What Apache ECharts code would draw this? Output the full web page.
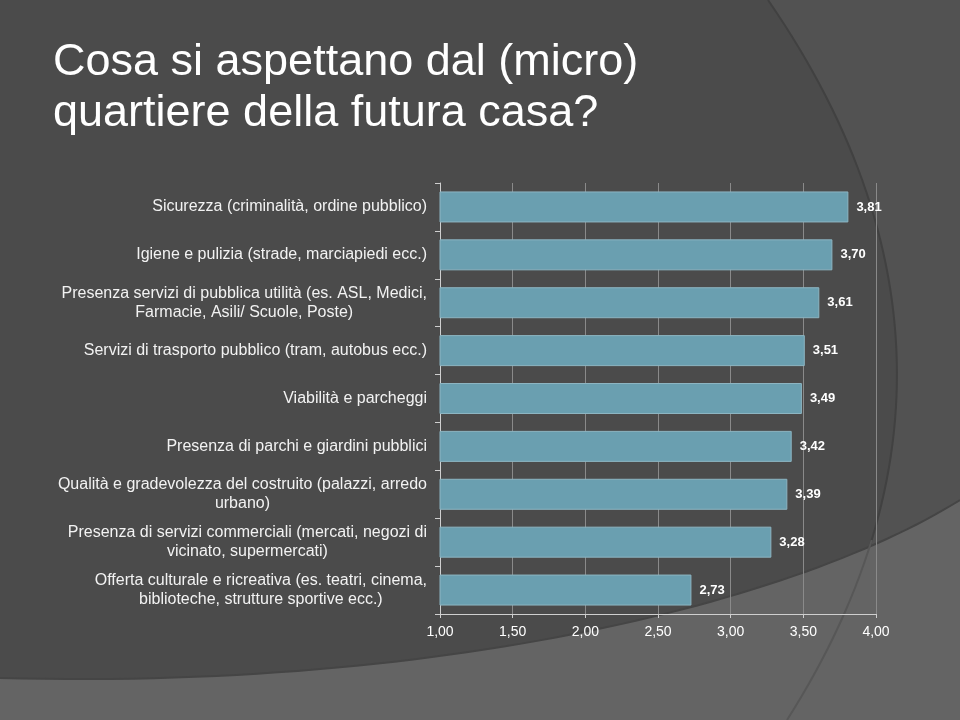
<!DOCTYPE html>
<html>
<head>
<meta charset="utf-8">
<script src="https://cdn.jsdelivr.net/npm/echarts@6/dist/echarts.min.js"></script>
<style>
html,body{margin:0;padding:0;background:#4b4b4b;}
#c{width:960px;height:720px;}
</style>
</head>
<body>
<div id="c"></div>
<script>
const titleText = 'Cosa si aspettano dal (micro)\nquartiere della futura casa?';
const categories = [
  'Sicurezza (criminalità, ordine pubblico)',
  'Igiene e pulizia (strade, marciapiedi ecc.)',
  'Presenza servizi di pubblica utilità (es. ASL, Medici,\nFarmacie, Asili/ Scuole, Poste)',
  'Servizi di trasporto pubblico (tram, autobus ecc.)',
  'Viabilità e parcheggi',
  'Presenza di parchi e giardini pubblici',
  'Qualità e gradevolezza del costruito (palazzi, arredo\nurbano)',
  'Presenza di servizi commerciali (mercati, negozi di\nvicinato, supermercati)',
  'Offerta culturale e ricreativa (es. teatri, cinema,\nbiblioteche, strutture sportive ecc.)'
];
const values = [3.81, 3.70, 3.61, 3.51, 3.49, 3.42, 3.39, 3.28, 2.73];
const xMin = 1, xMax = 4, xStep = 0.5;

// decorative background curves
function quad(p0, p1, p2, n) {
  const pts = [];
  for (let i = 0; i <= n; i++) {
    const t = i / n, a = (1 - t) * (1 - t), b = 2 * (1 - t) * t, c = t * t;
    pts.push([a * p0[0] + b * p1[0] + c * p2[0], a * p0[1] + b * p1[1] + c * p2[1]]);
  }
  return pts;
}
function cubic(p0, p1, p2, p3, n) {
  const pts = [];
  for (let i = 0; i <= n; i++) {
    const t = i / n, u = 1 - t;
    const a = u * u * u, b = 3 * u * u * t, c = 3 * u * t * t, d = t * t * t;
    pts.push([a * p0[0] + b * p1[0] + c * p2[0] + d * p3[0], a * p0[1] + b * p1[1] + c * p2[1] + d * p3[1]]);
  }
  return pts;
}
const lensCurve = quad([768, 0], [1016, 360], [787, 720], 60);
const bottomCurve = cubic([0, 678], [450, 690], [800, 600], [960, 500], 60);

const chart = echarts.init(document.getElementById('c'));
const fmt = v => v.toFixed(2).replace('.', ',');
const FF = '"Liberation Sans", Arial, sans-serif';

chart.setOption({
  backgroundColor: '#4b4b4b',
  animation: false,
  graphic: [
    { type: 'polygon', z: -10, silent: true,
      shape: { points: lensCurve.concat([[960, 720], [960, 0]]) },
      style: { fill: '#525252' } },
    { type: 'polyline', z: -10, silent: true,
      shape: { points: lensCurve },
      style: { fill: null, stroke: '#414141', lineWidth: 2 } },
    { type: 'polygon', z: -9, silent: true,
      shape: { points: bottomCurve.concat([[960, 720], [0, 720]]) },
      style: { fill: '#646464' } },
    { type: 'polyline', z: -9, silent: true,
      shape: { points: bottomCurve },
      style: { fill: null, stroke: '#454545', lineWidth: 2 } },
    { type: 'polyline', z: -8, silent: true,
      shape: { points: lensCurve.slice(45) },
      style: { fill: null, stroke: '#575757', lineWidth: 2 } },
    { type: 'text', left: 53, top: 37, z: 10,
      style: { text: titleText, fill: '#ffffff', font: '45px ' + FF, lineHeight: 51 } }
  ],
  grid: { left: 440, right: 84, top: 183, bottom: 106, containLabel: false },
  xAxis: {
    type: 'value', min: xMin, max: xMax, interval: xStep,
    axisLine: { show: true, lineStyle: { color: '#cfcfcf', width: 1 } },
    axisTick: { show: true, length: 4, lineStyle: { color: '#cfcfcf' } },
    splitLine: { show: true, lineStyle: { color: '#8a8a8a', width: 1 } },
    axisLabel: { color: '#ffffff', fontSize: 14, margin: 11, fontFamily: FF, formatter: v => fmt(v) }
  },
  yAxis: {
    type: 'category', inverse: true, data: categories,
    axisLine: { show: true, lineStyle: { color: '#cfcfcf', width: 1 } },
    axisTick: { show: true, length: 5, alignWithLabel: false, lineStyle: { color: '#cfcfcf' } },
    axisLabel: {
      color: '#f2f2f2', fontSize: 16, margin: 13, lineHeight: 19, fontFamily: FF,
      formatter: v => v.split('\n').map(s => '{c|' + s + '}').join('\n'),
      rich: { c: { align: 'center', color: '#f2f2f2', fontSize: 16, lineHeight: 19, fontFamily: FF } }
    }
  },
  series: [{
    type: 'bar', data: values, barWidth: 31,
    itemStyle: { color: '#6a9fb0', borderColor: '#8db5c2', borderWidth: 1 },
    label: { show: true, position: 'right', distance: 8, color: '#ffffff', fontWeight: 'bold', fontSize: 13,
      fontFamily: FF, formatter: p => fmt(p.value) }
  }]
});
</script>
</body>
</html>
